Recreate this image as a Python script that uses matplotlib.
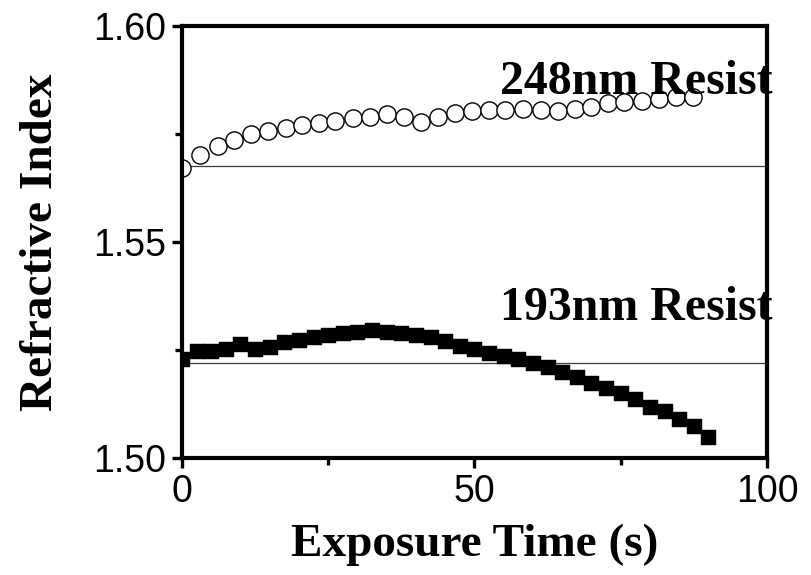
import matplotlib
matplotlib.use("Agg")
import matplotlib.pyplot as plt
from matplotlib.ticker import MultipleLocator

# 248 nm resist (open circles)
t_248 = [0.0, 3.1, 6.1, 8.9, 11.8, 14.7, 17.7, 20.6, 23.4, 26.2, 29.2,
         32.1, 35.1, 37.9, 40.8, 43.7, 46.6, 49.5, 52.4, 55.3, 58.3,
         61.3, 64.2, 67.1, 69.9, 72.8, 75.6, 78.6, 81.5, 84.4, 87.3]
n_248 = [1.5671, 1.5701, 1.5722, 1.5736, 1.5750, 1.5757, 1.5764, 1.5771,
         1.5776, 1.5781, 1.5786, 1.5790, 1.5796, 1.5789, 1.5778, 1.5789,
         1.5798, 1.5803, 1.5806, 1.5806, 1.5808, 1.5806, 1.5804, 1.5808,
         1.5813, 1.5821, 1.5823, 1.5827, 1.5831, 1.5835, 1.5835]

# 193 nm resist (filled squares)
t_193 = [0.0, 2.5, 5.0, 7.5, 10.0, 12.5, 15.0, 17.5, 20.0, 22.5, 25.0,
         27.5, 30.0, 32.5, 35.0, 37.5, 40.0, 42.5, 45.0, 47.5, 50.0,
         52.5, 55.0, 57.5, 60.0, 62.5, 65.0, 67.5, 70.0, 72.5, 75.0,
         77.5, 80.0, 82.5, 85.0, 87.5, 90.0]
n_193 = [1.5229, 1.5248, 1.5248, 1.5252, 1.5264, 1.5252, 1.5258, 1.5268,
         1.5273, 1.5279, 1.5285, 1.5289, 1.5292, 1.5297, 1.5292, 1.5289,
         1.5285, 1.5279, 1.5271, 1.5260, 1.5252, 1.5242, 1.5237, 1.5229,
         1.5219, 1.5211, 1.5198, 1.5188, 1.5173, 1.5161, 1.5150, 1.5137,
         1.5119, 1.5108, 1.5090, 1.5075, 1.5048]

# initial (unexposed) index levels
baseline_248 = 1.5676
baseline_193 = 1.5221

xticks = [0, 50, 100]
yticks = [1.50, 1.55, 1.60]
ytick_labels = ["1.50", "1.55", "1.60"]

fig = plt.figure(figsize=(8.11, 5.75), dpi=100)
ax = fig.add_axes([0.2244, 0.2035, 0.7213, 0.7513])

ax.axhline(baseline_248, color="#3a3a3a", lw=0.9, zorder=1)
ax.axhline(baseline_193, color="#3a3a3a", lw=0.9, zorder=1)

ax.plot(t_248, n_248, linestyle="none", marker="o", ms=12.4,
        mfc="white", mec="black", mew=1.0, zorder=3)
ax.plot(t_193, n_193, linestyle="none", marker="s", ms=10.8,
        mfc="black", mec="black", mew=0.3, zorder=3)

ax.set_xlim(0, 100)
ax.set_ylim(1.50, 1.60)
ax.set_xticks(xticks)
ax.set_yticks(yticks)
ax.set_yticklabels(ytick_labels)
ax.xaxis.set_minor_locator(MultipleLocator(25))
ax.yaxis.set_minor_locator(MultipleLocator(0.025))

for s in ax.spines.values():
    s.set_linewidth(3.0)
    s.set_zorder(5)

ax.tick_params(which="major", direction="out", length=7.5, width=2.4,
               labelsize=27, pad=4,
               labelfontfamily="Liberation Sans")
ax.tick_params(which="minor", direction="out", length=5, width=2.4)

serif_bold = dict(family="Liberation Serif", weight="bold", size=34)
ax.set_xlabel("Exposure Time (s)", labelpad=10, **serif_bold)
ax.set_ylabel("Refractive Index", labelpad=22, **serif_bold)

label_font = dict(family="Liberation Serif", weight="bold", size=34.5)
ax.text(101, 1.5843, "248nm Resist", ha="right", va="baseline",
        clip_on=False, zorder=6, **label_font)
ax.text(101, 1.5319, "193nm Resist", ha="right", va="baseline",
        clip_on=False, zorder=6, **label_font)

fig.savefig("out.png", dpi=100)
